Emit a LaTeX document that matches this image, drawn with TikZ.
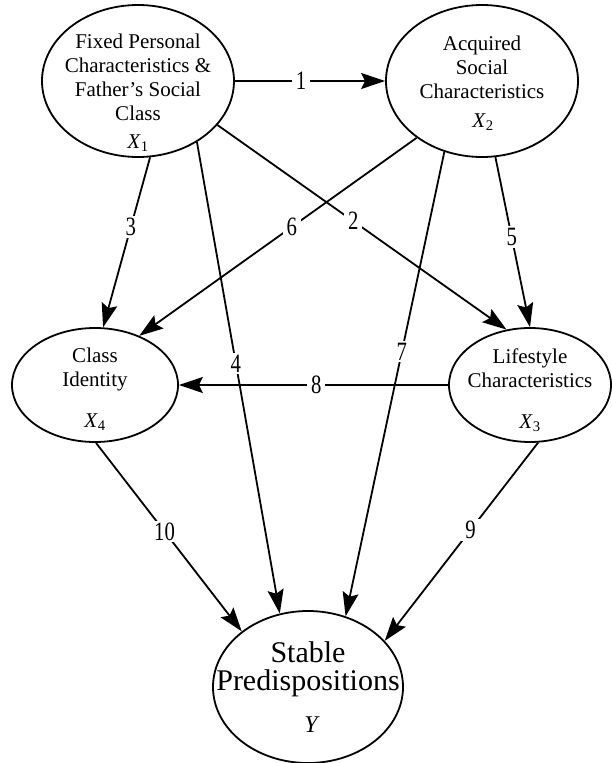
\documentclass[tikz,border=0pt]{standalone}
\usepackage{fontspec}
\usepackage{graphicx}
\setmainfont{Liberation Serif}
\usetikzlibrary{shapes.geometric,arrows.meta}
\newcommand\numlab[1]{\scalebox{0.9}[1.15]{#1}}
\tikzset{
  x=1pt,y=-1pt,
  var/.style={ellipse,draw,line width=1.8pt,inner sep=0pt},
  txt/.style={inner sep=0pt,align=center,font=\fontsize{21}{24}\selectfont},
  big/.style={inner sep=0pt,anchor=base,font=\fontsize{30}{26.5}\selectfont},
  sym/.style={inner sep=0pt,anchor=base,font=\fontsize{21}{24}\selectfont},
  path/.style={line width=1.8pt,-{Stealth[length=24pt,width=16pt,inset=4pt]}},
  lab/.style={fill=white,inner xsep=4pt,inner ysep=2pt,font=\fontsize{23}{26}\selectfont}
}
\begin{document}
\begin{tikzpicture}
\useasboundingbox (0,0) rectangle (611,763);
% ellipses
\node[var,minimum width=192pt,minimum height=152pt] (x1) at (138,81) {};
\node[var,minimum width=192pt,minimum height=152pt] (x2) at (482,81) {};
\node[var,minimum width=166pt,minimum height=114pt] (x4) at (95,385) {};
\node[var,minimum width=162pt,minimum height=114pt] (x3) at (530,385) {};
\node[var,minimum width=190pt,minimum height=152pt] (y) at (308,687) {};
% texts
\node[txt,anchor=north] (t1) at (138,33.7) {Fixed Personal\\Characteristics \&\\Father’s Social\\Class};
\node[sym] (s1) at (138,148) {\textit{X}\textsubscript{1}};
\node[txt,anchor=north] (t2) at (482,35.7) {Acquired\\Social\\Characteristics};
\node[sym] (s2) at (483,127) {\textit{X}\textsubscript{2}};
\node[txt,anchor=north] (t4) at (95,347.7) {Class\\Identity};
\node[sym] (s4) at (95,427) {\textit{X}\textsubscript{4}};
\node[txt,anchor=north] (t3) at (530,348.5) {Lifestyle\\Characteristics};
\node[sym] (s3) at (530,428) {\textit{X}\textsubscript{3}};
\node[big] (ty1) at (308,662) {Stable};
\node[big] (ty2) at (308,690) {Predispositions};
\node[sym,font=\fontsize{24}{26}\selectfont] (sy) at (312,732) {\textit{Y}};
% connectors
\draw[path] (x1.east) -- node[lab,pos=0.44] (l1) {\numlab{1}} (x2.west);
\draw[path] (x1.-29) -- node[lab,pos=0.47] (l2) {\numlab{2}} (x3.113.7);
\draw[path] (x1.-81) -- node[lab,pos=0.41] (l3) {\numlab{3}} (x4.82);
\draw[path] (x1.-46.4) -- node[lab,pos=0.47] (l4) {\numlab{4}} (y.111.8);
\draw[path] (x2.-80) -- node[lab,pos=0.47] (l5) {\numlab{5}} (x3.north);
\draw[path] (x2.-139) -- node[lab,pos=0.45] (l6) {\numlab{6}} (x4.48);
\draw[path] (x2.-118.8) -- node[lab,pos=0.43] (l7) {\numlab{7}} (y.62.5);
\draw[path] (x3.west) -- node[lab,pos=0.49] (l8) {\numlab{8}} (x4.east);
\draw[path] (x3.-82) -- node[lab,pos=0.44] (l9) {\numlab{9}} (y.31);
\draw[path] (x4.-89) -- node[lab,pos=0.47] (l10) {\numlab{10}} (y.140);
\end{tikzpicture}
\end{document}
